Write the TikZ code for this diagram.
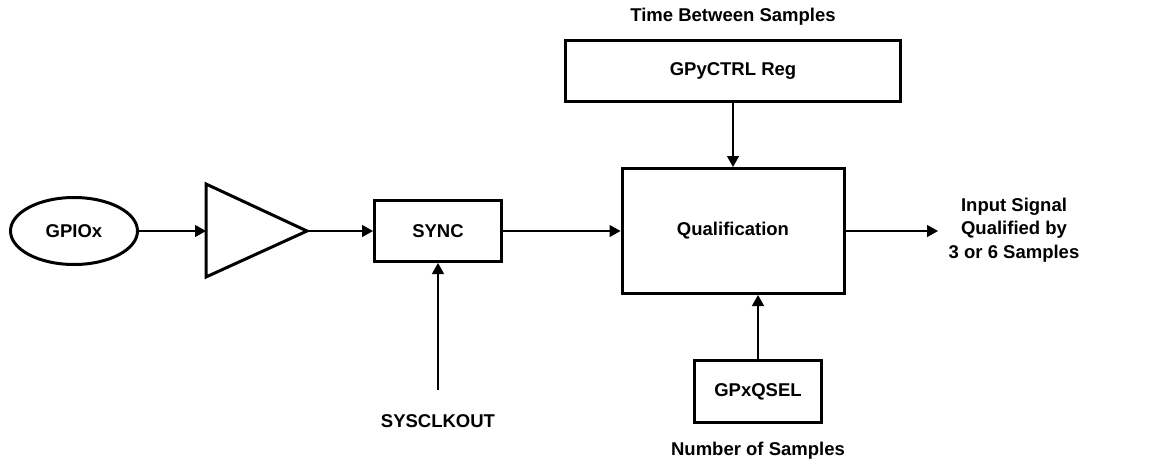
\documentclass[tikz,border=0pt]{standalone}
\usepackage{fontspec}
\setmainfont{Liberation Sans}
\usetikzlibrary{arrows.meta,shapes.geometric}
\begin{document}
\begin{tikzpicture}[x=1pt,y=-1pt,
  every node/.style={font=\fontsize{18.5}{23.5}\selectfont\bfseries, inner sep=0pt},
  blk/.style={draw, line width=3pt, rectangle},
  conn/.style={line width=1.3pt, -{Triangle[length=11pt,width=12pt]}},
  lbl/.style={align=center}]
\useasboundingbox (0,0) rectangle (1159,464);
\node[draw, ellipse, line width=3pt, minimum width=127pt, minimum height=67pt] (gpio) at (74,231) {GPIOx};
\draw[line width=3pt, line join=miter] (206,184) -- (307,231) -- (206,277) -- cycle;
\coordinate (ampin) at (206,231);
\coordinate (ampout) at (305,231);
\node[blk, minimum width=127pt, minimum height=61pt] (sync) at (438,231) {SYNC};
\node[blk, minimum width=335pt, minimum height=61pt] (ctrl) at (733,71) {GPyCTRL Reg};
\node[blk, minimum width=222pt, minimum height=125pt] (qual) at (733,231) {Qualification};
\node[blk, minimum width=127pt, minimum height=62pt] (qsel) at (758,391.5) {GPxQSEL};
\node[lbl] (tbs) at (733,17) {Time Between Samples};
\node[lbl] (clk) at (438,421) {SYSCLKOUT};
\node[lbl] (nos) at (758,451) {Number of Samples};
\node[lbl] (out) at (1014,230) {Input Signal\\Qualified by\\3 or 6 Samples};
\coordinate (clkend) at (438,390);
\coordinate (outend) at (938,231);
\draw[conn] (gpio.east) -- (ampin);
\draw[conn] (ampout) -- (sync.west);
\draw[conn] (sync.east) -- (qual.west);
\draw[conn] (clkend) -- (sync.south);
\draw[conn] (ctrl.south) -- (qual.north);
\draw[conn] (qsel.north) -- (qual.south -| qsel.north);
\draw[conn] (qual.east) -- (outend);
\end{tikzpicture}
\end{document}
